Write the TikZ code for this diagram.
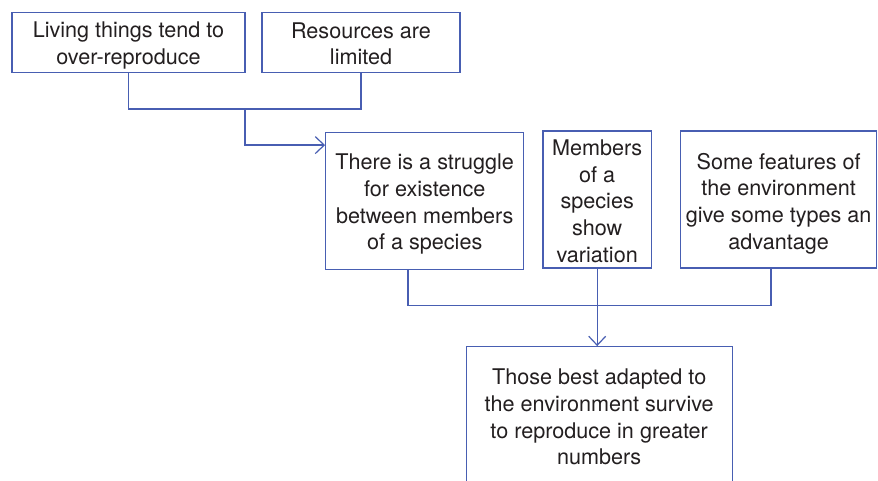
\documentclass[tikz,border=0pt]{standalone}
\usepackage{fontspec}
\setmainfont{TeX Gyre Heros}
\usetikzlibrary{arrows.meta}
\definecolor{linec}{RGB}{72,94,178}
\definecolor{textc}{RGB}{35,31,32}
\begin{document}
\begin{tikzpicture}[x=1pt,y=-1pt,
  box/.style={draw=linec, line width=1.2pt, rectangle, inner sep=0pt},
  txt/.style={inner sep=0pt, align=center, text=textc,
    font=\fontsize{21.6}{26.7}\selectfont},
  conn/.style={draw=linec, line width=1.2pt},
  arr/.style={conn, -{Straight Barb[length=9pt,width=17pt,line width=1.2pt]}}]
\useasboundingbox (0,0) rectangle (878,481);
\clip (0,0) rectangle (878,481);
\fill[white] (0,0) rectangle (878,481);
\node[box, minimum width=233pt, minimum height=60pt] (b1) at (128.5,42.2) {};
\node[box, minimum width=198pt, minimum height=60pt] (b2) at (361,42.7) {};
\node[box, minimum width=198pt, minimum height=137pt] (b3) at (424.7,201.2) {};
\node[box, minimum width=108.6pt, minimum height=137pt] (b4) at (597.2,199.5) {};
\node[box, minimum width=196.4pt, minimum height=137pt] (b5) at (778.6,199.5) {};
\node[box, minimum width=266pt, minimum height=139pt] (b6) at (599.2,416.2) {};
\node[txt] (t1) at ([yshift=-3.5pt]b1.center) {Living things tend to\\over-reproduce};
\node[txt] (t2) at ([yshift=-1pt]b2.center) {Resources are\\limited};
\node[txt] (t3) at ([yshift=-3pt]b3.center) {There is a struggle\\for existence\\between members\\of a species};
\node[txt] (t4) at ([yshift=-1.5pt]b4.center) {Members\\of a\\species\\show\\variation};
\node[txt] (t5) at ([yshift=-4pt]b5.center) {Some features of\\the environment\\give some types an\\advantage};
\node[txt] (t6) at ([yshift=-1pt]b6.center) {Those best adapted to\\the environment survive\\to reproduce in greater\\numbers};
\coordinate (j1) at (245,109);
\coordinate (j2) at (597.2,305.7);
\draw[conn] (b1.south) |- (j1) -| (b2.south);
\draw[arr] (j1) |- ([yshift=-13pt]b3.north west);
\draw[conn] ([xshift=-16.7pt]b3.south) |- (j2) -| ([xshift=-7.6pt]b5.south);
\draw[arr] (b4.south) -- (b4.south |- b6.north);
\end{tikzpicture}
\end{document}
